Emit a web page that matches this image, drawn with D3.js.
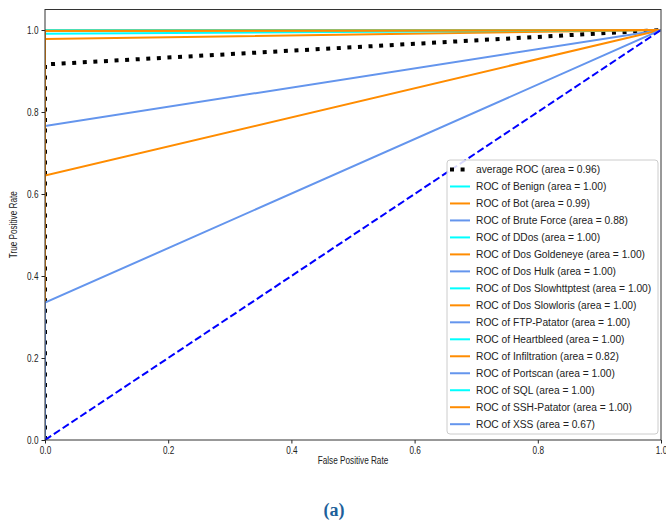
<!DOCTYPE html>
<html>
<head>
<meta charset="utf-8">
<script src="https://cdn.jsdelivr.net/npm/d3@7"></script>
<style>
  body { margin: 0; background: #fff; }
  svg text { font-family: "Liberation Sans", Arial, sans-serif; }
</style>
</head>
<body>
<div id="chart"></div>
<script>
const width = 666,
    height = 523;

// ROC data
var fpr = [0, 0, 1];

var avgTpr = [0, 0.916, 1];
var avgArea = 0.96;

var classNames = ["Benign", "Bot", "Brute Force", "DDos", "Dos Goldeneye", "Dos Hulk",
    "Dos Slowhttptest", "Dos Slowloris", "FTP-Patator", "Heartbleed", "Infiltration",
    "Portscan", "SQL", "SSH-Patator", "XSS"];

var classTpr = [
    [0, 1.0, 1],
    [0, 0.978, 1],
    [0, 0.766, 1],
    [0, 0.991, 1],
    [0, 0.998, 1],
    [0, 1.0, 1],
    [0, 1.0, 1],
    [0, 0.998, 1],
    [0, 1.0, 1],
    [0, 1.0, 1],
    [0, 0.645, 1],
    [0, 1.0, 1],
    [0, 1.0, 1],
    [0, 0.998, 1],
    [0, 0.335, 1]
];

var classArea = [1.00, 0.99, 0.88, 1.00, 1.00, 1.00, 1.00, 1.00, 1.00, 1.00, 0.82, 1.00, 1.00, 1.00, 0.67];

var xTicks = [0, 0.2, 0.4, 0.6, 0.8, 1.0];
var yTicks = [0, 0.2, 0.4, 0.6, 0.8, 1.0];

var colors = ["aqua", "darkorange", "cornflowerblue"];

var margin = {left: 45, right: 5, top: 9.5, bottom: 83};
var squeeze = 0.82;        // the picture's axis text is condensed
var legendSqueeze = 0.93;

var svg = d3.select("#chart").append("svg")
    .attr("width", width)
    .attr("height", height);

var x = d3.scaleLinear().domain([0, 1]).range([margin.left, width - margin.right]);
var y = d3.scaleLinear().domain([0, 1.05]).range([height - margin.bottom, margin.top]);

svg.append("clipPath").attr("id", "clip")
    .append("rect")
    .attr("x", x(0)).attr("y", y(1.05))
    .attr("width", x(1) - x(0)).attr("height", y(0) - y(1.05));

var line = d3.line()
    .x(d => x(d[0]))
    .y(d => y(d[1]));

function pts(tpr) {
    return fpr.map((f, i) => [f, tpr[i]]);
}

var plot = svg.append("g").attr("clip-path", "url(#clip)");

// average curve
plot.append("path")
    .datum(pts(avgTpr))
    .attr("fill", "none")
    .attr("stroke", "black")
    .attr("stroke-width", 4)
    .attr("stroke-dasharray", "4,6.6")
    .attr("d", line);

plot.selectAll(".roc")
    .data(classTpr)
    .join("path")
    .attr("class", "roc")
    .attr("fill", "none")
    .attr("stroke", (d, i) => colors[i % 3])
    .attr("stroke-width", 2)
    .attr("d", d => line(pts(d)));

// chance line
plot.append("path")
    .datum([[0, 0], [1, 1]])
    .attr("fill", "none")
    .attr("stroke", "#0000ff")
    .attr("stroke-width", 2)
    .attr("stroke-dasharray", "7.4,3.2")
    .attr("d", line);

// axes
var xAxis = svg.append("g")
    .attr("transform", "translate(0," + y(0) + ")")
    .call(d3.axisBottom(x).tickValues(xTicks).tickFormat(d3.format(".1f")).tickSizeOuter(0).tickSize(3.5).tickPadding(3));

var yAxis = svg.append("g")
    .attr("transform", "translate(" + x(0) + ",0)")
    .call(d3.axisLeft(y).tickValues(yTicks).tickFormat(d3.format(".1f")).tickSizeOuter(0).tickSize(3.5).tickPadding(4.5));

[xAxis, yAxis].forEach(function (g) {
    g.select(".domain").remove();
    g.selectAll("line").attr("stroke", "#222");
    g.selectAll("text").attr("font-size", 10).attr("fill", "#222")
        .attr("transform", "scale(" + squeeze + ",1)");
});

svg.append("rect")
    .attr("x", x(0))
    .attr("y", y(1.05))
    .attr("width", x(1) - x(0))
    .attr("height", y(0) - y(1.05))
    .attr("fill", "none")
    .attr("stroke", "#333")
    .attr("stroke-width", 1);

svg.append("text")
    .attr("transform", "translate(" + ((x(0) + x(1)) / 2) + ",464) scale(" + squeeze + ",1)")
    .attr("text-anchor", "middle")
    .attr("font-size", 10)
    .attr("fill", "#222")
    .text("False Positive Rate");

svg.append("text")
    .attr("transform", "translate(17," + (y(0.525)) + ") rotate(-90) scale(" + squeeze + ",1)")
    .attr("text-anchor", "middle")
    .attr("font-size", 10)
    .attr("fill", "#222")
    .text("True Positive Rate");

// legend
var legendItems = [{label: "average ROC (area = " + avgArea.toFixed(2) + ")", color: "black", avg: true}]
    .concat(classNames.map((n, i) => ({
        label: "ROC of " + n + " (area = " + classArea[i].toFixed(2) + ")",
        color: colors[i % 3]
    })));

var lg = svg.append("g").attr("transform", "translate(447,160)");

lg.append("rect")
    .attr("width", 211)
    .attr("height", 274)
    .attr("rx", 3)
    .attr("fill", "white")
    .attr("fill-opacity", 0.85)
    .attr("stroke", "#ccc");

var rows = lg.selectAll(".item")
    .data(legendItems)
    .join("g")
    .attr("class", "item")
    .attr("transform", (d, i) => "translate(0," + (9.5 + i * 16.98) + ")");

rows.append("line")
    .attr("x1", 3)
    .attr("x2", 23)
    .attr("stroke", d => d.color)
    .attr("stroke-width", d => d.avg ? 4 : 2)
    .attr("stroke-dasharray", d => d.avg ? "4,6.6" : null);

rows.append("text")
    .attr("transform", "translate(29,0) scale(" + legendSqueeze + ",1)")
    .attr("dy", "0.35em")
    .attr("font-size", 11)
    .attr("fill", "#222")
    .text(d => d.label);

svg.append("text")
    .attr("x", 334)
    .attr("y", 516)
    .attr("text-anchor", "middle")
    .style("font-family", "'Liberation Serif', serif")
    .attr("font-weight", "bold")
    .attr("font-size", 18)
    .attr("fill", "#1d5f9a")
    .text("(a)");
</script>
</body>
</html>
